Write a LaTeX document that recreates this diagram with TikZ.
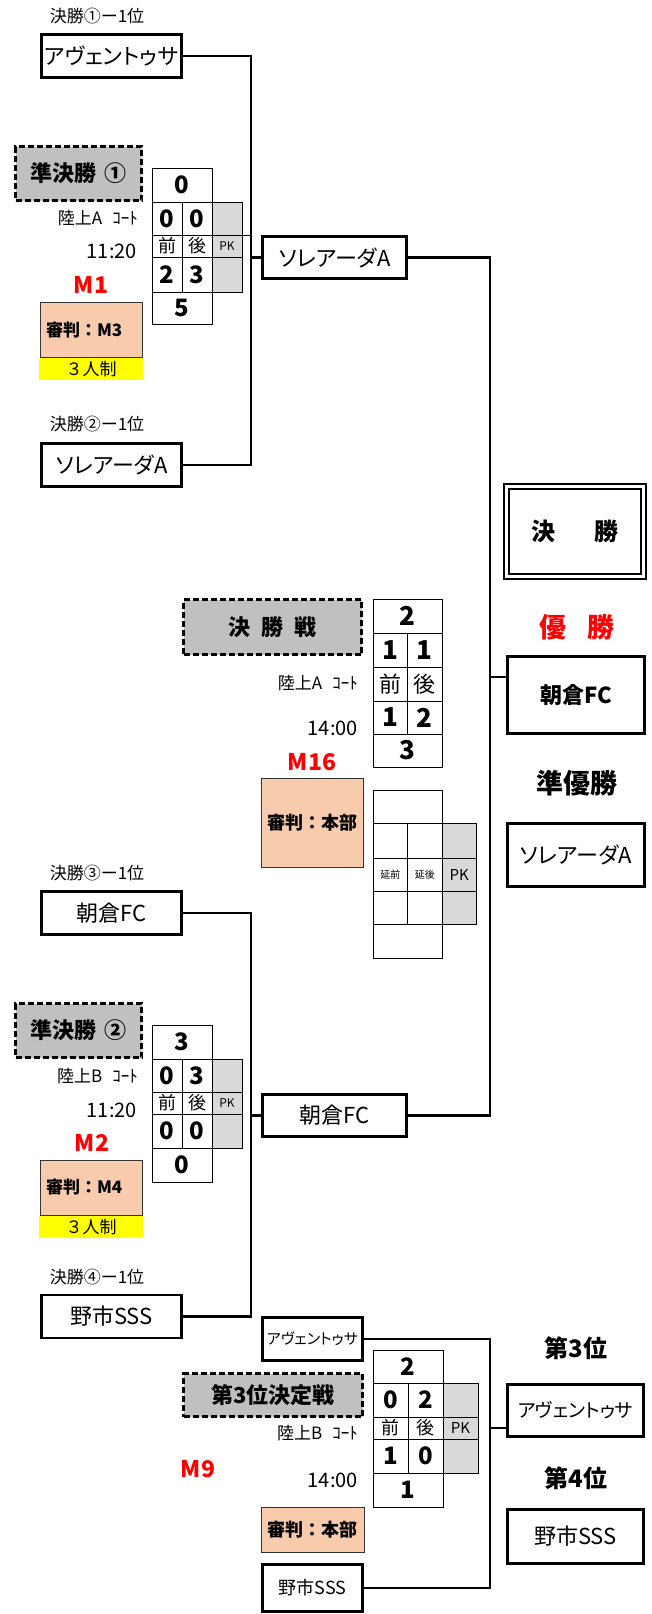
\documentclass[tikz,border=0pt]{standalone}
\usepackage{fontspec}
\setmainfont{Noto Sans CJK JP}
\newfontfamily\pfont[RawFeature=+palt]{Noto Sans CJK JP}
\definecolor{dgray}{HTML}{C0C0C0}
\definecolor{pkgray}{HTML}{D9D9D9}
\definecolor{peach}{HTML}{F8CBAD}
\definecolor{yel}{HTML}{FFFF00}
\definecolor{mred}{HTML}{FF0000}
\newcommand{\fs}[1]{\fontsize{#1}{#1}\selectfont}
\tikzset{
  team/.style={draw=black, line width=2.6pt, inner sep=0pt, minimum width=140pt, minimum height=43pt, font=\pfont\fs{22}},
  steam/.style={draw=black, line width=2.6pt, inner sep=0pt, minimum width=100pt, minimum height=43pt, font=\pfont\fs{15}},
  lbox/.style={draw=black, dash pattern=on 6pt off 3pt, line width=2.4pt, fill=dgray, inner sep=0pt, font=\bfseries\fs{22}},
  refbox/.style={draw=black!80, line width=0.8pt, fill=peach, inner sep=0pt, font=\bfseries\fs{17}},
  yelbox/.style={fill=yel, inner sep=0pt, font=\fs{17}},
  plain/.style={inner sep=0pt, font=\fs{17}},
  court/.style={inner sep=0pt, font=\fs{17}, anchor=east},
  timet/.style={inner sep=0pt, font=\fs{20}, anchor=east},
  mnum/.style={inner sep=0pt, text=mred, font=\bfseries\fs{23}},
  sc/.style={inner sep=0pt, font=\bfseries\fs{24}},
  half/.style={inner sep=0pt, font=\fs{18}},
  pkt/.style={inner sep=0pt, font=\fs{12}},
  cell/.style={line width=0.8pt, draw=black},
  bracket/.style={line width=2.6pt, line join=miter, draw=black},
  big/.style={inner sep=0pt, font=\bfseries\fs{25}},
}
\newcommand{\mygrid}[6]{%
  \pgfmathsetmacro{\qcw}{#1}%
  \pgfmathsetmacro{\qcwb}{2*#1}%
  \pgfmathsetmacro{\qcwc}{3*#1}%
  \pgfmathsetmacro{\qya}{#2}%
  \pgfmathsetmacro{\qyb}{#2+#3}%
  \pgfmathsetmacro{\qyc}{#2+#3+#4}%
  \pgfmathsetmacro{\qyd}{#2+#3+#4+#5}%
  \pgfmathsetmacro{\qye}{#2+#3+#4+#5+#6}%
  \fill[white] (0,0) rectangle (\qcwb,\qye);
  \draw[cell] (0,0) rectangle (\qcwb,\qye);
  \draw[cell] (0,\qya) -- (\qcwb,\qya) (0,\qyb) -- (\qcwb,\qyb) (0,\qyc) -- (\qcwb,\qyc) (0,\qyd) -- (\qcwb,\qyd) (\qcw,\qya) -- (\qcw,\qyd);
}
\newcommand{\mypk}[1]{%
  \fill[pkgray] (\qcwb,\qya) rectangle (\qcwc,\qyd);
  \draw[cell] (\qcwb,\qya) rectangle (\qcwc,\qyd) (\qcwb,\qyb) -- (\qcwc,\qyb) (\qcwb,\qyc) -- (\qcwc,\qyc);
  \node[pkt] (#1p) at ({2.5*\qcw},{(\qyb+\qyc)/2}) {PK};
}
\newcommand{\mytext}[7]{%
  \node[sc] (#1t) at ({\qcw},{\qya/2}) {#2};
  \node[sc] (#1a) at ({\qcw/2},{(\qya+\qyb)/2}) {#3};
  \node[sc] (#1b) at ({1.5*\qcw},{(\qya+\qyb)/2}) {#4};
  \node[half] (#1f) at ({\qcw/2},{(\qyb+\qyc)/2}) {前};
  \node[half] (#1s) at ({1.5*\qcw},{(\qyb+\qyc)/2}) {後};
  \node[sc] (#1c) at ({\qcw/2},{(\qyc+\qyd)/2}) {#5};
  \node[sc] (#1d) at ({1.5*\qcw},{(\qyc+\qyd)/2}) {#6};
  \node[sc] (#1e) at ({\qcw},{(\qyd+\qye)/2}) {#7};
}
\begin{document}
\begin{tikzpicture}[x=1pt,y=-1pt]
\useasboundingbox (0,0) rectangle (651,1614);
\fill[white] (0,0) rectangle (651,1614);

\coordinate (v1) at (251,0);
\coordinate (v2) at (490,0);

% ---------- semifinal 1 ----------
\node[plain] (h1) at (97,16) {決勝①ー1位};
\node[team] (t1) at (111.5,56) {アヴェントゥサ};
\node[plain] (h2) at (97,424) {決勝②ー1位};
\node[team] (t2) at (111.5,465) {ソレアーダA};
\node[lbox, minimum width=126pt, minimum height=54pt] (sf1) at (78.5,173.5) {準決勝\hspace{0.35em}①};
\node[court] (c1) at (138,218) {陸上A\hspace{10pt}ｺｰﾄ};
\node[timet] (tm1) at (137,251) {11:20};
\node[mnum] (m1) at (91,285) {M1};
\node[refbox, minimum width=102pt, minimum height=55pt, text width=95pt, align=left] (r1) at (91.5,330) {\hspace{2pt}審判：M3};
\node[yelbox, minimum width=104pt, minimum height=22pt] (y1) at (91,369) {３人制};
\begin{scope}[shift={(152,168)}]
  \mygrid{30}{34}{33}{22}{35}{32}
  \mypk{s1}
  \mytext{s1}{0}{0}{0}{2}{3}{5}
\end{scope}
\draw[cell] (242,235) -- (251,235);
\node[team, minimum width=144pt, minimum height=42pt] (w1) at (334.5,257.5) {ソレアーダA};

% ---------- semifinal 2 ----------
\node[plain] (h3) at (97,873) {決勝③ー1位};
\node[team] (t3) at (111.5,913) {朝倉FC};
\node[plain] (h4) at (97,1277) {決勝④ー1位};
\node[team] (t4) at (111.5,1316.5) {野市SSS};
\node[lbox, minimum width=126pt, minimum height=54pt] (sf2) at (78.5,1030.5) {準決勝\hspace{0.35em}②};
\node[court] (c2) at (138,1076) {陸上B\hspace{10pt}ｺｰﾄ};
\node[timet] (tm2) at (137,1110) {11:20};
\node[mnum] (m2) at (92,1143) {M2};
\node[refbox, minimum width=102pt, minimum height=55pt, text width=95pt, align=left] (r2) at (91.5,1187.5) {\hspace{2pt}審判：M4};
\node[yelbox, minimum width=104pt, minimum height=22pt] (y2) at (91,1227) {３人制};
\begin{scope}[shift={(152,1025)}]
  \mygrid{30}{34}{33}{22}{34}{34}
  \mypk{s2}
  \mytext{s2}{3}{0}{3}{0}{0}{0}
\end{scope}
\node[team, minimum width=144pt, minimum height=42pt] (w2) at (334.5,1115.5) {朝倉FC};

% ---------- final ----------
\node[lbox, minimum width=178pt, minimum height=55pt] (fl) at (272.5,627) {決\hspace{0.5em}勝\hspace{0.5em}戦};
\node[court] (c3) at (358,683) {陸上A\hspace{10pt}ｺｰﾄ};
\node[timet] (tm3) at (358,728) {14:00};
\node[mnum] (m16) at (312,762) {M16};
\node[refbox, minimum width=102pt, minimum height=89pt, font=\bfseries\fs{18}] (r16) at (312,823) {審判：本部};
\begin{scope}[shift={(373,599)}, sc/.style={inner sep=0pt, font=\bfseries\fs{26}}, half/.style={inner sep=0pt, font=\fs{22}}]
  \mygrid{34.5}{34}{34}{34}{33}{33}
  \mytext{fs}{2}{1}{1}{1}{2}{3}
\end{scope}
\begin{scope}[shift={(373,790)}, pkt/.style={inner sep=0pt, font=\fs{15}}]
  \mygrid{34.5}{33}{35}{33}{33}{34}
  \mypk{es}
  \node[inner sep=0pt, font=\fs{10}] (ef) at ({\qcw/2},{(\qyb+\qyc)/2}) {延前};
  \node[inner sep=0pt, font=\fs{10}] (el) at ({1.5*\qcw},{(\qyb+\qyc)/2}) {延後};
\end{scope}

% ---------- results column ----------
\node[draw=black, line width=2.3pt, double, double distance=2.5pt, minimum width=137pt, minimum height=90pt, inner sep=0pt, font=\bfseries\fs{24}] (kb) at (575,531.5) {決\hspace{1.6em}勝};
\node[big, text=mred, font=\bfseries\fs{27}] (win) at (577,627) {優\hspace{0.75em}勝};
\node[team, minimum width=137pt, minimum height=77pt, font=\bfseries\fs{22}] (champ) at (576,695) {朝倉FC};
\node[big, font=\bfseries\fs{27}] (ru) at (577,783) {準優勝};
\node[team, minimum width=137pt, minimum height=63pt] (runner) at (576,855) {ソレアーダA};

% ---------- third place ----------
\node[steam] (t5) at (312.5,1339) {アヴェントゥサ};
\node[steam, minimum height=47pt, font=\pfont\fs{18}] (t6) at (312.5,1588) {野市SSS};
\node[lbox, minimum width=179pt, minimum height=43pt, font=\bfseries\fs{22}] (tl) at (273,1395) {第3位決定戦};
\node[court] (c4) at (358,1433) {陸上B\hspace{10pt}ｺｰﾄ};
\node[timet] (tm4) at (358,1480) {14:00};
\node[mnum] (m9) at (198,1469) {M9};
\node[refbox, minimum width=103pt, minimum height=45pt, font=\bfseries\fs{18}] (r9) at (312.5,1529.5) {審判：本部};
\begin{scope}[shift={(373,1350)}, pkt/.style={inner sep=0pt, font=\fs{15}}]
  \mygrid{35}{33}{34}{22}{34}{34}
  \mypk{s3}
  \mytext{s3}{2}{0}{2}{1}{0}{1}
\end{scope}
\node[big, font=\bfseries\fs{24}] (p3) at (576,1348) {第3位};
\node[team, minimum width=136pt, minimum height=52pt, font=\pfont\fs{19}] (third) at (575.5,1410.5) {アヴェントゥサ};
\node[big, font=\bfseries\fs{24}] (p4) at (576,1478) {第4位};
\node[team, minimum width=136pt, minimum height=54pt] (fourth) at (575.5,1536.5) {野市SSS};

% ---------- connectors ----------
\draw[bracket] (t1.east) -- (t1.east -| v1) -- (t2.east -| v1) -- (t2.east);
\draw[bracket] (w1.west) -- (w1.west -| v1);
\draw[bracket] (t3.east) -- (t3.east -| v1) -- (t4.east -| v1) -- (t4.east);
\draw[bracket] (w2.west) -- (w2.west -| v1);
\draw[bracket] (w1.east) -- (w1.east -| v2) -- (w2.east -| v2) -- (w2.east);
\coordinate (cj) at ([yshift=18pt]champ.west);
\draw[bracket] (cj) -- (cj -| v2);
\draw[bracket] (t5.east) -- (t5.east -| v2) -- (t6.east -| v2) -- (t6.east);
\coordinate (tj) at ([yshift=-17.5pt]third.west);
\draw[bracket] (tj) -- (tj -| v2);
\end{tikzpicture}
\end{document}
